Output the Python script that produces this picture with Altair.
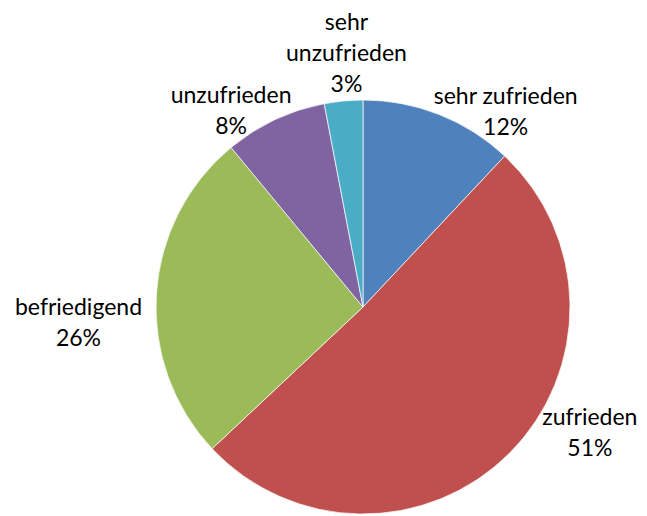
import altair as alt
import pandas as pd

categories = ["sehr zufrieden", "zufrieden", "befriedigend", "unzufrieden", "sehr unzufrieden"]
values = [12, 51, 26, 8, 3]
label_lines = [["sehr zufrieden", "12%"], ["zufrieden", "51%"], ["befriedigend", "26%"],
               ["unzufrieden", "8%"], ["sehr", "unzufrieden", "3%"]]
colors = ["#4F81BD", "#C0504D", "#9BBB59", "#8064A2", "#4BACC6"]

df = pd.DataFrame({
    "cat": categories,
    "value": values,
    "order": list(range(len(categories))),
    "label": ["\n".join(l) for l in label_lines],
})

CX, CY, R = 355, 299, 207
FONT = "Lato"
FS = 23
LH = 31

base = alt.Chart(df)

pie = base.mark_arc(outerRadius=R, stroke="white", strokeWidth=0.7).encode(
    theta=alt.Theta("value:Q", stack=True),
    color=alt.Color("cat:N", scale=alt.Scale(domain=categories, range=colors), legend=None),
    order=alt.Order("order:Q"),
    x=alt.value(CX),
    y=alt.value(CY),
)

# label placement tweaks: (radius, dx, dy)
place = {
    "sehr zufrieden": (230, 58, 3.5),
    "zufrieden": (260, 43, -72.5),
    "befriedigend": (250, -35, 17),
    "unzufrieden": (230, -34, -2.5),
    "sehr unzufrieden": (250, 7, -35),
}

layers = [pie]
for c in categories:
    r, dx, dy = place[c]
    t = base.transform_window(
        cum="sum(value)", sort=[alt.SortField("order")], frame=[None, 0]
    ).transform_calculate(
        mid="datum.cum - datum.value/2"
    ).transform_filter(
        alt.datum.cat == c
    ).mark_text(
        radius=r, dx=dx, dy=dy, font=FONT, fontSize=FS, lineBreak="\n",
        lineHeight=LH, align="center", baseline="middle", color="#000000"
    ).encode(
        theta=alt.Theta("mid:Q", scale=alt.Scale(domain=[0, 100])),
        text="label:N",
        x=alt.value(CX),
        y=alt.value(CY),
    )
    layers.append(t)

chart = alt.layer(*layers).resolve_scale(theta="shared").properties(
    width=631, height=508, padding=0, autosize="none"
).configure_view(stroke=None)

chart.save("out.html", embed_options={"renderer": "svg", "actions": False})
